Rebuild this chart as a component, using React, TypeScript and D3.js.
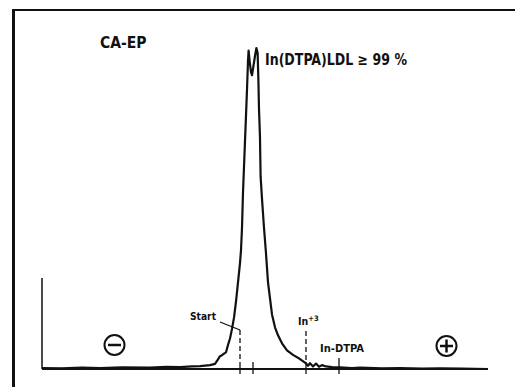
import React from "react";
import * as d3 from "d3";

// migration distance (mm, arbitrary origin) and radioactivity (% of peak)
const distance = [
  0, 10, 20, 29, 40, 54, 62, 69, 75, 79, 84, 86.5, 88, 89, 90, 91, 92, 93, 94, 95, 96, 97, 98, 99,
  99.5, 100, 100.5, 101, 101.5, 102, 102.5, 103, 103.3, 103.8, 104.5, 105, 105.5, 106.5, 107.2,
  107.8, 108.2, 108.5, 109, 109.3, 110, 111, 112, 113, 114, 115, 116.5, 118, 120, 122.5, 125.5,
  129, 131.5, 133, 134, 135.5, 137, 138.5, 140, 142, 145, 149, 155, 159, 170, 179, 190, 199, 210, 223,
];
const activity = [
  0.3, 0.2, 0.4, 0.3, 0.5, 0.4, 0.7, 0.6, 0.8, 0.9, 1.2, 1.6, 3.0, 4.0, 4.3, 4.8, 5.2, 7.5, 9.5,
  12.5, 16, 21, 27, 33, 37, 44, 55, 63, 71, 79, 87, 96, 99.2, 96, 92.5, 91.5, 93.5, 97.5, 100,
  98.5, 90, 81, 72, 60, 53, 44, 36, 27, 22, 17, 13, 10.5, 8, 5.8, 4.4, 3.1, 2.0, 1.0, 1.8, 0.8,
  1.7, 0.7, 1.2, 0.8, 0.6, 0.5, 0.3, 0.4, 0.2, 0.3, 0.1, 0.2, 0.1, 0,
];

const startPos = 99;
const markerPos = 105.5;
const inPos = 132;
const inDtpaPos = 148.5;

const font = "'DejaVu Sans Condensed', 'DejaVu Sans', sans-serif";

export default function App() {
  const width = 515;
  const height = 387;

  const x = d3.scaleLinear().domain([0, 223]).range([42, 488]);
  const y = d3.scaleLinear().domain([0, 100]).range([369, 48]);

  const pts: [number, number][] = distance.map((d, i) => [d, activity[i]]);
  const line = d3
    .line<[number, number]>()
    .x((d) => x(d[0]))
    .y((d) => y(d[1]))
    .curve(d3.curveLinear);

  const base = y(0);

  return (
    <svg
      width={width}
      height={height}
      style={{ position: "absolute", left: 0, top: 0, background: "#fff" }}
    >
      {/* frame */}
      <line x1={13.5} y1={10} x2={13.5} y2={387} stroke="#111" strokeWidth={3} />
      <line x1={12} y1={10} x2={515} y2={10} stroke="#111" strokeWidth={2} />

      {/* axes */}
      <line x1={x(0)} y1={278} x2={x(0)} y2={base} stroke="#111" strokeWidth={1.5} />
      <line x1={x(0)} y1={base} x2={x(223)} y2={base} stroke="#111" strokeWidth={2} />

      {/* scan */}
      <path d={line(pts) || ""} fill="none" stroke="#111" strokeWidth={2.2} strokeLinejoin="round" />

      {/* markers */}
      <line x1={220} y1={322} x2={x(startPos)} y2={330} stroke="#111" strokeWidth={1.3} />
      <line
        x1={x(startPos)}
        y1={330}
        x2={x(startPos)}
        y2={362}
        stroke="#111"
        strokeWidth={1.3}
        strokeDasharray="5,3"
      />
      <line x1={x(startPos)} y1={362} x2={x(startPos)} y2={374} stroke="#111" strokeWidth={1.3} />
      <line x1={x(markerPos)} y1={362} x2={x(markerPos)} y2={374} stroke="#111" strokeWidth={1.3} />
      <line
        x1={x(inPos)}
        y1={331}
        x2={x(inPos)}
        y2={362}
        stroke="#111"
        strokeWidth={1.3}
        strokeDasharray="5,3"
      />
      <line x1={x(inPos)} y1={362} x2={x(inPos)} y2={374} stroke="#111" strokeWidth={1.3} />
      <line x1={x(inDtpaPos)} y1={358} x2={x(inDtpaPos)} y2={374} stroke="#111" strokeWidth={1.3} />

      {/* electrodes */}
      <circle cx={114.5} cy={345} r={10} fill="none" stroke="#111" strokeWidth={2} />
      <line x1={108} y1={345} x2={121} y2={345} stroke="#111" strokeWidth={2.5} />
      <circle cx={446.5} cy={346} r={10} fill="none" stroke="#111" strokeWidth={2} />
      <line x1={440} y1={346} x2={453} y2={346} stroke="#111" strokeWidth={2.5} />
      <line x1={446.5} y1={339.5} x2={446.5} y2={352.5} stroke="#111" strokeWidth={2.5} />

      {/* labels */}
      <g fontFamily={font} fontWeight="bold" fill="#111">
        <text x={100} y={48} fontSize={15.5}>
          CA-EP
        </text>
        <text x={265} y={65} fontSize={15.5} textLength={142} lengthAdjust="spacingAndGlyphs">
          In(DTPA)LDL ≥ 99 %
        </text>
        <text x={190} y={320} fontSize={10.5} textLength={26} lengthAdjust="spacingAndGlyphs">
          Start
        </text>
        <text x={298} y={325} fontSize={10.5}>
          In
          <tspan fontSize={7.5} dy={-4}>
            +3
          </tspan>
        </text>
        <text x={320} y={352} fontSize={10.5} textLength={44} lengthAdjust="spacingAndGlyphs">
          In-DTPA
        </text>
      </g>
    </svg>
  );
}
